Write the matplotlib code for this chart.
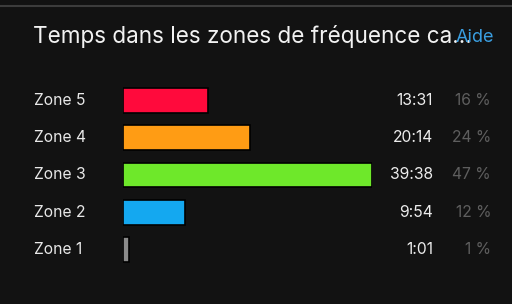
import matplotlib
matplotlib.use("Agg")
import matplotlib.pyplot as plt
from matplotlib.transforms import blended_transform_factory

# heart-rate zones, bottom to top
zones = ["Zone 1", "Zone 2", "Zone 3", "Zone 4", "Zone 5"]
times = ["1:01", "9:54", "39:38", "20:14", "13:31"]
percents = ["1 %", "12 %", "47 %", "24 %", "16 %"]
colors = ["#8a8a8a", "#14a8f0", "#6ee82a", "#ff9c14", "#ff0a3c"]


def to_minutes(s):
    m, sec = s.split(":")
    return int(m) + int(sec) / 60


minutes = [to_minutes(t) for t in times]

W, H = 512, 304
bg = "#121212"
fig = plt.figure(figsize=(W / 100, H / 100), dpi=100, facecolor=bg)
plt.rcParams["font.family"] = ["Inter", "DejaVu Sans"]

# axes covers the bar area: x 123..372 px, rows centred 100..249 px
ax = fig.add_axes([123 / W, (H - 268.2) / H, 249 / W, 186.5 / H])
ax.set_facecolor(bg)
ax.barh(range(len(zones)), minutes, height=0.66, color=colors,
        edgecolor="#000000", linewidth=1.2)
ax.set_xlim(0, max(minutes))
ax.set_ylim(-0.5, len(zones) - 0.5)
ax.axis("off")

tr = blended_transform_factory(fig.transFigure, ax.transData)
for i, z in enumerate(zones):
    fig.text(34 / W, i, z, transform=tr, color="#e8e8e8", fontsize=11.3,
             ha="left", va="center")
    fig.text(433 / W, i, times[i], transform=tr, color="#ececec",
             fontsize=11.3, ha="right", va="center")
    fig.text(491 / W, i, percents[i], transform=tr, color="#5e5e5e",
             fontsize=11.3, ha="right", va="center")

# header: the title runs under "Aide", as in the app
fig.add_artist(plt.Line2D([0, 1], [1 - 5.5 / H, 1 - 5.5 / H],
                          color="#3c3c3c", linewidth=1.5))
fig.text(33 / W, 1 - 36 / H, "Temps dans les zones de fréquence ca\u2026",
         color="#f2f2f2", fontsize=16.2, ha="left", va="center")
fig.text(494 / W, 1 - 37 / H, "Aide", color="#3a9ee0", fontsize=13,
         ha="right", va="center")

fig.savefig("out.png", dpi=100, facecolor=bg)
